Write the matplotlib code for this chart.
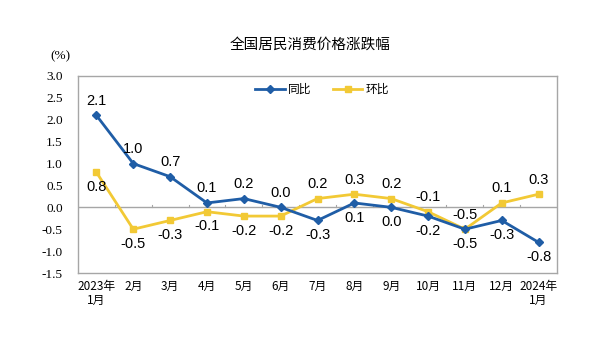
import matplotlib
matplotlib.use("Agg")
import matplotlib.pyplot as plt
import numpy as np

months = ["2023年\n1月", "2月", "3月", "4月", "5月", "6月", "7月", "8月",
          "9月", "10月", "11月", "12月", "2024年\n1月"]
yoy = [2.1, 1.0, 0.7, 0.1, 0.2, 0.0, -0.3, 0.1, 0.0, -0.2, -0.5, -0.3, -0.8]
mom = [0.8, -0.5, -0.3, -0.1, -0.2, -0.2, 0.2, 0.3, 0.2, -0.1, -0.5, 0.1, 0.3]
# label placement: +1 above, -1 below
yoy_pos = [1, 1, 1, 1, 1, 1, -1, -1, -1, -1, -1, -1, -1]
mom_pos = [-1, -1, -1, -1, -1, -1, 1, 1, 1, 1, 1, 1, 1]

blue = "#1F5DA6"
yellow = "#F2C935"
cjk = ["Noto Sans CJK SC", "DejaVu Sans"]

fig = plt.figure(figsize=(6.01, 3.44), dpi=100)
ax = fig.add_axes([78 / 601, 1 - 273 / 344, (557 - 78) / 601, (273 - 76) / 344])

x = np.arange(len(months))
ax.plot(x, yoy, color=blue, lw=2, marker="D", ms=4, label="同比", zorder=3)
ax.plot(x, mom, color=yellow, lw=2, marker="s", ms=4, label="环比", zorder=2)

for xi, v, p in zip(x, yoy, yoy_pos):
    ax.annotate(f"{v:.1f}", (xi, v), xytext=(0, 10.5 * p), textcoords="offset points",
                ha="center", va="center", fontsize=10.5, family="Liberation Sans")
for xi, v, p in zip(x, mom, mom_pos):
    ax.annotate(f"{v:.1f}", (xi, v), xytext=(0, 10.5 * p), textcoords="offset points",
                ha="center", va="center", fontsize=10.5, family="Liberation Sans")

ax.axhline(0, color="#A6A6A6", lw=1, zorder=1)
for b in np.arange(0.5, len(months) - 1, 1):
    ax.plot([b, b], [0, 0.06], color="#A6A6A6", lw=0.8, zorder=1)

ax.set_xlim(-0.5, len(months) - 0.5)
ax.set_ylim(-1.5, 3.0)
ax.set_yticks(np.arange(-1.5, 3.01, 0.5))
ax.set_yticklabels([f"{t:.1f}" for t in np.arange(-1.5, 3.01, 0.5)],
                   family="Liberation Serif", fontsize=9.5)
ax.set_xticks(x)
ax.set_xticklabels(months, family=cjk, fontsize=8.5, linespacing=1.05, va="top")
ax.tick_params(axis="y", length=0, pad=11)
ax.tick_params(axis="x", length=0, pad=5)
for s in ax.spines.values():
    s.set_color("#A6A6A6")
    s.set_linewidth(1)

fig.text(50 / 601, 1 - 56 / 344, "(%)", family="Liberation Serif", fontsize=9.5,
         ha="left", va="center")
fig.text(310 / 601, 1 - 45 / 344, "全国居民消费价格涨跌幅", family=cjk, fontsize=10.5,
         ha="center", va="center")
ax.legend(loc="upper center", bbox_to_anchor=(0.51, 1.02), ncol=2, frameon=False,
          prop={"family": cjk, "size": 8.5}, handlelength=2.5, columnspacing=1.8,
          handletextpad=0.3)

fig.savefig("out.png", dpi=100)
